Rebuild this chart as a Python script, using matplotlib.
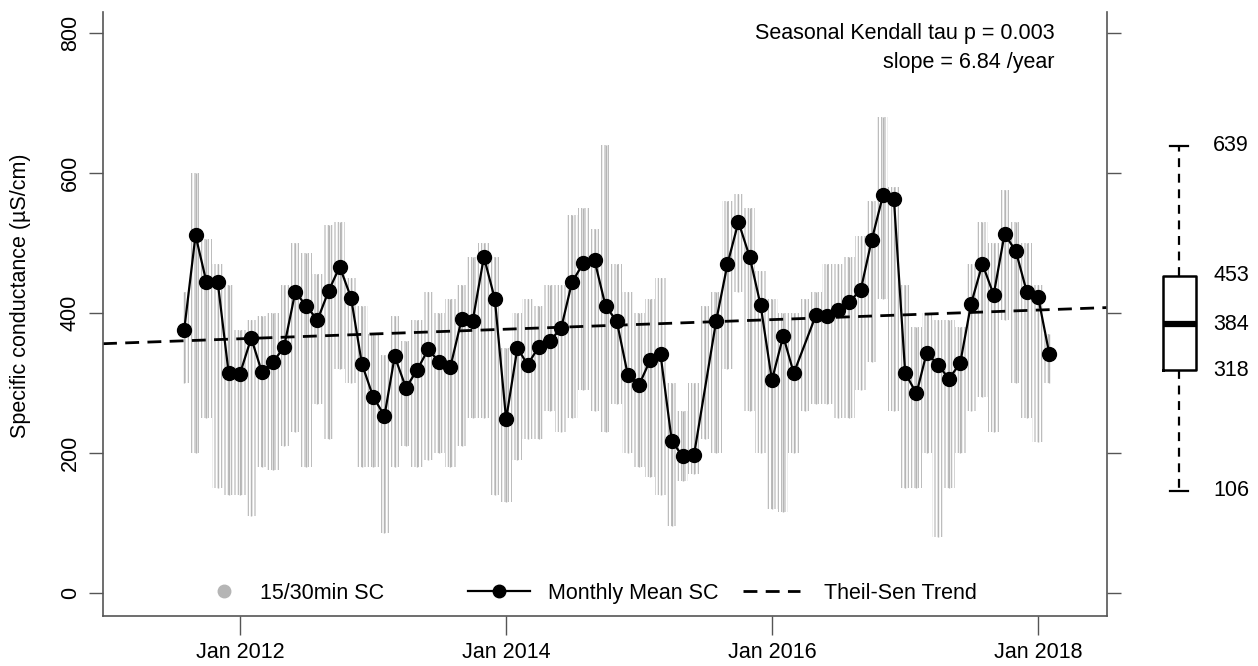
#!/usr/bin/env python3
import numpy as np
import pandas as pd
import matplotlib
matplotlib.use("Agg")
import matplotlib.pyplot as plt
import matplotlib.dates as mdates
from matplotlib.lines import Line2D
from matplotlib.legend import Legend

plt.rcParams["font.family"] = ["Liberation Sans", "DejaVu Sans"]
plt.rcParams["hatch.linewidth"] = 0.8

# one value per month, Aug 2011 .. Feb 2018 (None = no monthly mean)
MONTHS = pd.date_range("2011-08-01", "2018-02-01", freq="MS")
MONTHLY_MEAN = [
    376, 511, 444, 444, 314, 313, 364, 316, 330, 351, 430, 410,
    390, 432, 466, 422, 327, 280, 253, 338, 293, 318, 348, 330,
    323, 391, 388, 480, 420, 248, 350, 326, 352, 360, 378, 444,
    471, 475, 410, 388, 312, 297, 333, 341, 217, 195, 197, None,
    389, 470, 530, 480, 411, 304, 367, 314, None, 397, 396, 404,
    416, 433, 504, 568, 563, 314, 285, 343, 326, 306, 328, 413,
    470, 426, 513, 488, 430, 423, 341,
]
# range of the 15/30 min readings within each month
SC_MAX = [
    430, 600, 505, 470, 440, 375, 390, 395, 400, 440, 500, 485,
    455, 525, 530, 450, 410, 370, 340, 395, 360, 390, 430, 400,
    420, 440, 480, 500, 480, 350, 400, 420, 410, 440, 440, 540,
    550, 520, 640, 470, 430, 400, 420, 450, 300, 260, 300, 410,
    430, 560, 570, 550, 460, 420, 400, 400, 420, 430, 470, 470,
    480, 510, 560, 680, 580, 440, 380, 400, 390, 390, 380, 470,
    530, 500, 575, 530, 500, 440, 370,
]
SC_MIN = [
    300, 200, 250, 150, 140, 140, 110, 180, 175, 210, 230, 180,
    270, 220, 320, 300, 180, 180, 85, 180, 210, 180, 190, 200,
    180, 210, 250, 250, 140, 130, 190, 220, 220, 260, 230, 250,
    290, 260, 230, 270, 200, 180, 165, 140, 95, 160, 170, 220,
    200, 320, 430, 260, 200, 120, 115, 200, 260, 270, 270, 250,
    250, 290, 330, 420, 260, 150, 150, 200, 80, 150, 200, 260,
    280, 230, 390, 300, 250, 215, 300,
]

TREND_SLOPE = 6.84      # per year
TREND_AT_2015 = 383.6   # trend value on 1 Jan 2015

BOX_VALUES = [639, 453, 384, 318, 106]   # whisker hi, q3, median, q1, whisker lo
BOX_LO_DRAWN = 146                       # where the lower whisker sits in the source

YTICKS = [0, 200, 400, 600, 800]
XTICK_YEARS = [2012, 2014, 2016, 2018]

GRAY = "#b5b5b5"
AXCOL = "#555555"
FS = 15.5


def px(xpix):
    # horizontal pixel position -> main axes fraction
    return (xpix - 103) / 1004


def main():
    fig = plt.figure(figsize=(12.58, 6.66), dpi=100)
    ax = fig.add_axes([0.0819, 0.0751, 0.7980, 0.9069])

    x = mdates.date2num(MONTHS)
    mean = np.array([np.nan if v is None else v for v in MONTHLY_MEAN], float)

    # high-frequency readings, shown as vertical hatching per month
    ax.fill_between(x, SC_MIN, SC_MAX, step="mid", facecolor="none",
                    edgecolor=GRAY, hatch="|||||", linewidth=0, zorder=1)
    ax.vlines(x, SC_MIN, SC_MAX, color=GRAY, lw=1.0, zorder=1)

    # Theil-Sen trend across the whole axis
    x0 = mdates.date2num(pd.Timestamp("2010-12-21"))
    x1 = mdates.date2num(pd.Timestamp("2018-07-09"))
    ref = mdates.date2num(pd.Timestamp("2015-01-01"))
    tx = np.array([x0, x1])
    ty = TREND_AT_2015 + TREND_SLOPE * (tx - ref) / 365.25
    ax.plot(tx, ty, color="black", lw=2.0, ls=(0, (5, 3)), zorder=2)

    ok = ~np.isnan(mean)
    ax.plot(x[ok], mean[ok], color="black", lw=1.6, marker="o", ms=10, zorder=3)

    ax.set_xlim(x0, x1)
    ax.set_ylim(-33, 830)
    ax.set_yticks(YTICKS)
    ax.set_yticklabels([str(v) for v in YTICKS], rotation=90, va="center", fontsize=FS)
    ax.set_xticks([mdates.date2num(pd.Timestamp(f"{y}-01-01")) for y in XTICK_YEARS])
    ax.set_xticklabels([f"Jan {y}" for y in XTICK_YEARS], fontsize=FS)
    ax.tick_params(axis="y", length=10, width=1, color=AXCOL, right=True, pad=6)
    ax.tick_params(axis="x", length=14, width=1, color=AXCOL, pad=5)
    ax.spines["top"].set_visible(False)
    for s in ("left", "right", "bottom"):
        ax.spines[s].set_color(AXCOL)
        ax.spines[s].set_linewidth(1.2)
    ax.set_ylabel("Specific conductance (\u00b5S/cm)", fontsize=FS)
    ax.yaxis.set_label_coords(-0.072, 0.53)

    ax.text(0.948, 0.965, "Seasonal Kendall tau p = 0.003", transform=ax.transAxes,
            ha="right", va="center", fontsize=FS)
    ax.text(0.948, 0.917, "slope = %.2f /year" % TREND_SLOPE, transform=ax.transAxes,
            ha="right", va="center", fontsize=FS)

    # legend entries laid out like the source (one legend per entry)
    em = FS * 100 / 72
    entries = [
        (Line2D([], [], ls="none", marker="o", ms=9, color=GRAY), "15/30min SC", 204, 244, 260),
        (Line2D([], [], color="black", lw=1.6, marker="o", ms=9), "Monthly Mean SC", 468, 530, 548),
        (Line2D([], [], color="black", lw=2.0, ls=(0, (5, 3))), "Theil-Sen Trend", 743, 800, 824),
    ]
    for h, lab, hs, he, ts in entries:
        leg = Legend(ax, [h], [lab], loc="center left", bbox_to_anchor=(px(hs), 0.038),
                     frameon=False, fontsize=FS, borderpad=0, borderaxespad=0,
                     handlelength=(he - hs) / em, handletextpad=(ts - he) / em)
        ax.add_artist(leg)

    # summary box plot beside the main panel
    bx = fig.add_axes([1140 / 1258, 0.0751, 118 / 1258, 0.9069])
    bx.set_xlim(1140, 1258)
    bx.set_ylim(-33, 830)
    bx.axis("off")
    hi, q3, med, q1, lo = BOX_VALUES
    stats = [dict(med=med, q1=q1, q3=q3, whislo=BOX_LO_DRAWN, whishi=hi, fliers=[])]
    bx.bxp(stats, positions=[1179], widths=33, capwidths=18, showfliers=False,
           boxprops=dict(color="black", lw=1.8),
           whiskerprops=dict(color="black", lw=1.6, ls=(0, (4, 3))),
           capprops=dict(color="black", lw=1.6),
           medianprops=dict(color="black", lw=4.5))
    for v, yv in zip(BOX_VALUES, [hi, q3, med, q1, BOX_LO_DRAWN]):
        bx.text(1213, yv, str(v), ha="left", va="center", fontsize=FS)

    fig.savefig("out.png", dpi=100)


if __name__ == "__main__":
    main()
